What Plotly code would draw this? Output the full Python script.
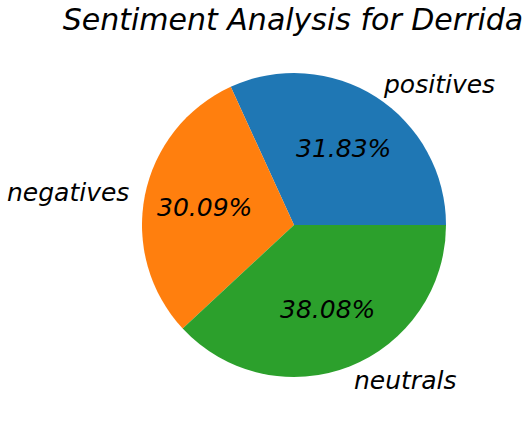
import math
import plotly.graph_objects as go

labels = ["positives", "negatives", "neutrals"]
shares = [31.83, 30.09, 38.08]
colors = ["#1f77b4", "#ff7f0e", "#2ca02c"]

W, H = 531, 423
cx, cy, r = 294, 225, 152  # pie centre / radius in pixels
font = dict(family="DejaVu Sans", size=25, color="black", style="italic")

total = sum(shares)

# plotly puts the end of the first counterclockwise slice at `rotation`,
# so shift it so the first wedge starts at 3 o'clock like matplotlib
fig = go.Figure(go.Pie(
    labels=labels,
    values=shares,
    marker=dict(colors=colors, line=dict(width=0)),
    sort=False,
    direction="counterclockwise",
    rotation=90 - shares[0] / total * 360,
    textinfo="none",
    hoverinfo="label+percent",
    showlegend=False,
    domain=dict(x=[(cx - r) / W, (cx + r) / W], y=[1 - (cy + r) / H, 1 - (cy - r) / H]),
))

# place labels like matplotlib: names at 1.1r, percentages at 0.6r
start = 0.0
annotations = []
for lab, v in zip(labels, shares):
    mid = math.radians((start + v / 2) / total * 360)
    start += v
    c, s = math.cos(mid), math.sin(mid)
    annotations.append(dict(
        x=(cx + 1.1 * r * c) / W, y=1 - (cy - 1.1 * r * s) / H,
        xref="paper", yref="paper", text=lab, showarrow=False, font=font,
        xanchor="left" if c > 0 else "right", yanchor="middle",
        xshift=-3 if c > 0 else 1,
    ))
    annotations.append(dict(
        x=(cx + 0.6 * r * c) / W, y=1 - (cy - 0.6 * r * s) / H,
        xref="paper", yref="paper", text=f"{v / total * 100:.2f}%", showarrow=False,
        font=font, xanchor="center", yanchor="middle",
    ))

fig.update_layout(
    width=W, height=H,
    margin=dict(l=0, r=0, t=0, b=0),
    paper_bgcolor="white",
    title=dict(text="Sentiment Analysis for Derrida", x=293 / W, xanchor="center",
               y=1 - 19 / H, yanchor="middle",
               font=dict(family="DejaVu Sans", size=30, color="black", style="italic")),
    annotations=annotations,
)

fig.write_html("out.html", config={"displayModeBar": False},
               post_script="document.body.style.margin='0';")
